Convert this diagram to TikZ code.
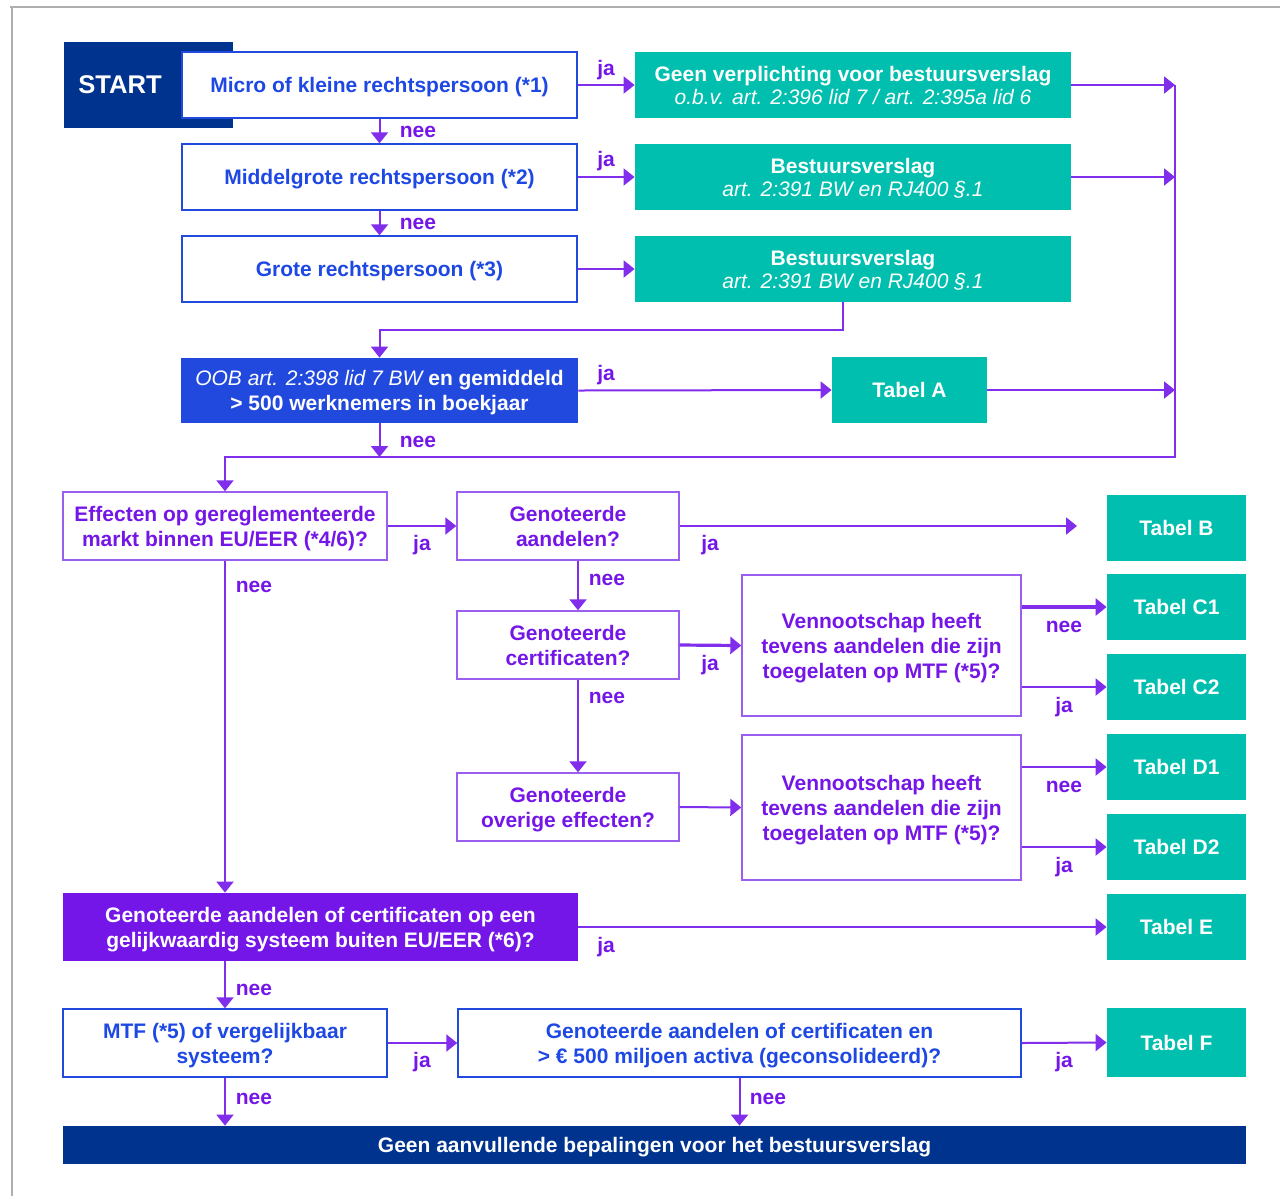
\documentclass[tikz,border=0pt]{standalone}
\usepackage{fontspec}
\setmainfont{Liberation Sans}
\usetikzlibrary{arrows.meta}
\definecolor{navy}{RGB}{0,51,141}
\definecolor{kblue}{RGB}{34,73,222}
\definecolor{kbluetxt}{RGB}{30,72,228}
\definecolor{kteal}{RGB}{0,191,174}
\definecolor{kpurple}{RGB}{117,22,232}
\definecolor{kpurpleln}{RGB}{128,45,236}
\definecolor{kpurplebd}{RGB}{155,95,240}
\definecolor{kframe}{RGB}{175,175,175}
\tikzset{
  basebox/.style={inner sep=0pt, align=center, text depth=0pt, font=\fontsize{10.5}{12.5}\selectfont\bfseries},
  wbox/.style={basebox, draw=kblue, line width=0.7pt, fill=white, text=kbluetxt},
  pbox/.style={basebox, draw=kpurplebd, line width=0.7pt, fill=white, text=kpurple},
  gbox/.style={basebox, fill=kteal, text=white},
  arr/.style={draw=kpurpleln, line width=1pt, -{Triangle[length=5.5pt,width=8.5pt]}},
  thickarr/.style={arr, line width=1.6pt},
  ln/.style={draw=kpurpleln, line width=1pt},
  lbl/.style={font=\fontsize{10.5}{12.5}\selectfont\bfseries, text=kpurple, anchor=base, inner sep=0pt},
  tbl/.style={gbox, minimum width=69.5pt, minimum height=33pt}
}
\begin{document}
\begin{tikzpicture}[x=0.5pt,y=-0.5pt]
\useasboundingbox (0,0) rectangle (1280,1196);
% frame
\draw[kframe, line width=0.6pt] (10,7) -- (1280,7);
\draw[kframe, line width=0.6pt] (12,7) -- (12,1196);

% top column
\node[basebox, fill=navy, text=white, anchor=west, minimum height=43pt, text width=70.5pt, inner xsep=7pt, align=left, font=\fontsize{12.8}{15}\selectfont\bfseries] (start) at (64,85) {START};
\node[wbox, minimum width=197.5pt, minimum height=33pt] (micro) at (379.5,85) {Micro of kleine rechtspersoon (*1)};
\node[wbox, minimum width=197.5pt, minimum height=33pt] (middel) at (379.5,177) {Middelgrote rechtspersoon (*2)};
\node[wbox, minimum width=197.5pt, minimum height=33pt] (groot) at (379.5,269) {Grote rechtspersoon (*3)};

\node[gbox, minimum width=218pt, minimum height=33pt] (g1) at (853,85) {Geen verplichting voor bestuursverslag\\[-1pt]{\mdseries\itshape o.b.v. art. 2:396 lid 7 / art. 2:395a lid 6}};
\node[gbox, minimum width=218pt, minimum height=33pt] (g2) at (853,177) {Bestuursverslag\\[-1pt]{\mdseries\itshape art. 2:391 BW en RJ400 §.1}};
\node[gbox, minimum width=218pt, minimum height=33pt] (g3) at (853,269) {Bestuursverslag\\[-1pt]{\mdseries\itshape art. 2:391 BW en RJ400 §.1}};

\node[basebox, fill=kblue, text=white, minimum width=198.5pt, minimum height=32.5pt] (oob) at (379.5,390.5) {{\mdseries\itshape OOB art. 2:398 lid 7 BW} en gemiddeld\\> 500 werknemers in boekjaar};
\node[gbox, minimum width=77.5pt, minimum height=33pt] (ta) at (909.5,390) {Tabel A};

\coordinate (rtop) at (1175,85);
\coordinate (rbot) at (1175,457);

% middle
\node[pbox, minimum width=162pt, minimum height=34pt] (eff) at (225,526) {Effecten op gereglementeerde\\markt binnen EU/EER (*4/6)?};
\node[pbox, minimum width=111pt, minimum height=34pt] (ga) at (568,526) {Genoteerde\\aandelen?};
\node[pbox, minimum width=111pt, minimum height=34pt] (gc) at (568,645) {Genoteerde\\certificaten?};
\node[pbox, minimum width=111pt, minimum height=34pt] (go) at (568,807) {Genoteerde\\overige effecten?};
\node[pbox, minimum width=139.5pt, minimum height=70.5pt] (v1) at (881.5,645.5) {Vennootschap heeft\\tevens aandelen die zijn\\toegelaten op MTF (*5)?};
\node[pbox, minimum width=139.5pt, minimum height=72.5pt] (v2) at (881.5,807.5) {Vennootschap heeft\\tevens aandelen die zijn\\toegelaten op MTF (*5)?};

\node[tbl] (tb) at (1176.5,528) {Tabel B};
\node[tbl] (tc1) at (1176.5,607) {Tabel C1};
\node[tbl] (tc2) at (1176.5,687) {Tabel C2};
\node[tbl] (td1) at (1176.5,767) {Tabel D1};
\node[tbl] (td2) at (1176.5,847) {Tabel D2};
\node[tbl] (te) at (1176.5,927) {Tabel E};
\node[tbl, minimum height=34.5pt] (tf) at (1176.5,1042.5) {Tabel F};
\coordinate (tbend) at (1077,526);

\node[basebox, fill=kpurple, text=white, minimum width=257.5pt, minimum height=34pt] (pb) at (320.5,927) {Genoteerde aandelen of certificaten op een\\gelijkwaardig systeem buiten EU/EER (*6)?};
\node[wbox, minimum width=162pt, minimum height=34pt] (mtf) at (225,1043) {MTF (*5) of vergelijkbaar\\systeem?};
\node[wbox, minimum width=281.5pt, minimum height=34pt] (act) at (739.5,1043) {Genoteerde aandelen of certificaten en\\> € 500 miljoen activa (geconsolideerd)?};
\node[basebox, fill=navy, text=white, minimum width=591.5pt, minimum height=19pt] (bar) at (654.5,1145) {Geen aanvullende bepalingen voor het bestuursverslag};

% connectors top
\draw[arr] (micro.east) -- (g1.west);
\draw[arr] (middel.east) -- (g2.west);
\draw[arr] (groot.east) -- (g3.west);
\draw[arr] (micro.south) -- (middel.north);
\draw[arr] (middel.south) -- (groot.north);
\draw[arr] (g1.east) -- (g1.east -| rtop);
\draw[arr] (g2.east) -- (g2.east -| rtop);
\draw[arr] (ta.east) -- (ta.east -| rtop);
\draw[arr] ([xshift=-5pt]g3.south) -- ++(0,28) -| (oob.north);
\draw[arr] (oob.east) -- (ta.west);
\draw[arr] (oob.south) -- (oob.south |- rbot);
\draw[arr] (rtop) -- (rbot) -| (eff.north);

% middle connectors
\draw[arr] (eff.east) -- (ga.west);
\draw[arr] (ga.east) -- (tbend);
\draw[arr] ([xshift=5pt]ga.south) -- ([xshift=5pt]gc.north);
\draw[arr] ([xshift=5pt]gc.south) -- ([xshift=5pt]go.north);
\draw[thickarr] (gc.east) -- (v1.west);
\draw[arr] (go.east) -- (v2.west);
\draw[thickarr] (v1.east |- tc1.west) -- (tc1.west);
\draw[arr] (v1.east |- tc2.west) -- (tc2.west);
\draw[arr] (v2.east |- td1.west) -- (td1.west);
\draw[arr] (v2.east |- td2.west) -- (td2.west);

% lower connectors
\draw[arr] (eff.south) -- (eff.south |- pb.north);
\draw[arr] (pb.east) -- (te.west);
\draw[arr] (pb.south -| mtf.north) -- (mtf.north);
\draw[arr] (mtf.east) -- (act.west);
\draw[arr] (act.east) -- (tf.west);
\draw[arr] (mtf.south) -- (mtf.south |- bar.north);
\draw[arr] (act.south) -- (act.south |- bar.north);

% labels
\node[lbl] (l1) at (606,75) {ja};
\node[lbl] (l2) at (418,137) {nee};
\node[lbl] (l3) at (606,166) {ja};
\node[lbl] (l4) at (418,229) {nee};
\node[lbl] (l5) at (606,380) {ja};
\node[lbl] (l6) at (418,447) {nee};
\node[lbl] (l7) at (422,550) {ja};
\node[lbl] (l8) at (710,550) {ja};
\node[lbl] (l9) at (254,592) {nee};
\node[lbl] (l10) at (607,585) {nee};
\node[lbl] (l11) at (710,670) {ja};
\node[lbl] (l12) at (607,703) {nee};
\node[lbl] (l13) at (1064,632) {nee};
\node[lbl] (l14) at (1064,712) {ja};
\node[lbl] (l15) at (1064,792) {nee};
\node[lbl] (l16) at (1064,872) {ja};
\node[lbl] (l17) at (606,952) {ja};
\node[lbl] (l18) at (254,995) {nee};
\node[lbl] (l19) at (422,1067) {ja};
\node[lbl] (l20) at (1064,1067) {ja};
\node[lbl] (l21) at (254,1104) {nee};
\node[lbl] (l22) at (768,1104) {nee};
\end{tikzpicture}
\end{document}
